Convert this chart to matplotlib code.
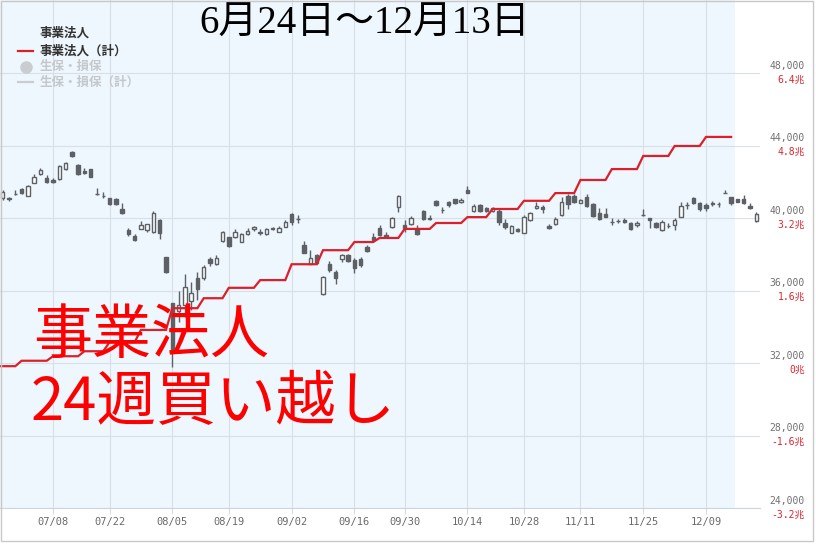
import numpy as np
import pandas as pd
import matplotlib
matplotlib.use('Agg')
import matplotlib.pyplot as plt
from matplotlib.lines import Line2D
from matplotlib.patches import Rectangle

# trading calendar (Tokyo), 2024
holidays = ['2024-07-15', '2024-08-12', '2024-09-16', '2024-09-23', '2024-10-14', '2024-11-04']
first_candle = '2024-06-26'
last_flow_day = '2024-12-13'

tick_dates = ['2024-07-08', '2024-07-22', '2024-08-05', '2024-08-19', '2024-09-02', '2024-09-16',
              '2024-09-30', '2024-10-14', '2024-10-28', '2024-11-11', '2024-11-25', '2024-12-09']
tick_labels = ['07/08', '07/22', '08/05', '08/19', '09/02', '09/16',
               '09/30', '10/14', '10/28', '11/11', '11/25', '12/09']

# daily candles from 06/26 to 12/19
opens = [41086, 41119, 41320, 41599, 41241, 41958, 42443, 42189,
         42096, 42134, 42686, 43640, 42923, 42609, 42703, 41330, 41240, 41086,
         41070, 40496, 39337, 39006, 39392, 39337, 39210, 39889, 37831, 35293,
         34886, 35199, 35436, 36672, 36672, 37737, 37445, 38747, 38946, 38979,
         38687, 39111, 39376, 39220, 39111, 39376, 39243, 39519, 40220, 39950,
         38510, 37461, 37958, 35807, 37445, 37037, 37737, 37958, 37682, 37737,
         38383, 38979, 39431, 39061, 39486, 40590, 39613, 39668, 39376, 40386,
         39983, 40954, 40450, 40882, 41031, 40882, 41544, 40386, 40717, 40568,
         40386, 40385, 39740, 39188, 39409, 39188, 39889, 40534, 40590, 39558,
         39652, 40165, 41230, 41230, 40843, 41141, 40772, 40292, 40220, 39800,
         39860, 39889, 39707, 39597, 40180, 39983, 39707, 39337, 39560, 39613,
         40071, 40720, 41086, 40843, 40717, 40820, 40780, 41400, 41141, 41031,
         41047, 40662, 39834]
highs = [41544, 41185, 41544, 41654, 41820, 42454, 42741, 42372,
         42206, 42923, 43116, 43712, 42978, 42741, 42730, 41638, 41417, 41130,
         41130, 40810, 39431, 39117, 39850, 39668, 40402, 39927, 37848, 35337,
         36000, 36910, 36490, 37040, 37406, 37826, 37958, 39298, 38979, 39398,
         39166, 39431, 39575, 39376, 39447, 39519, 39558, 39889, 40292, 40165,
         38731, 38234, 38013, 36800, 37627, 37130, 38013, 38013, 37776, 37865,
         38510, 39166, 39613, 39227, 40038, 41268, 39889, 40110, 39613, 40441,
         40165, 41020, 40590, 40954, 41064, 41086, 41765, 40756, 40772, 40623,
         40590, 40479, 39927, 39613, 39464, 40165, 40347, 40900, 40717, 39668,
         40038, 41142, 41323, 41307, 41064, 41323, 40843, 40534, 40534, 39983,
         39944, 39983, 39762, 39834, 40479, 39990, 39762, 39889, 39707, 40016,
         40900, 40900, 41141, 40899, 40810, 40954, 40899, 41544, 41174, 41075,
         41268, 40810, 40347]
lows = [40992, 40937, 41296, 41323, 41213, 41914, 42372, 41930,
        41930, 42096, 42648, 43381, 42388, 42427, 42261, 41296, 41119, 40744,
        40744, 40248, 39006, 38747, 39376, 39243, 39155, 38857, 36992, 31779,
        34290, 34553, 34924, 35475, 36579, 37351, 37406, 38687, 38428, 38891,
        38671, 39061, 39282, 39061, 39083, 39337, 39227, 39486, 39613, 39740,
        38053, 37461, 37461, 35751, 37037, 36358, 37589, 37589, 36949, 37279,
        38141, 38786, 39006, 38935, 39431, 40347, 39227, 39613, 39061, 39889,
        39889, 40689, 40292, 40590, 40772, 40843, 41362, 40331, 40347, 40331,
        40347, 39613, 39409, 39155, 39227, 39155, 39850, 40497, 40258, 39376,
        39597, 40126, 40479, 40827, 40810, 40589, 40071, 39889, 40038, 39600,
        39707, 39707, 39337, 39519, 40126, 39431, 39431, 39282, 39431, 39337,
        40038, 40479, 40755, 40402, 40385, 40662, 40626, 41380, 40717, 40865,
        40772, 40513, 39795]
closes = [41434, 41075, 41350, 41362, 41792, 42289, 42675, 41985,
          41969, 42868, 43061, 43436, 42410, 42499, 42278, 41300, 41220, 40772,
          40760, 40259, 39100, 38786, 39613, 39652, 40259, 39188, 37003, 32772,
          35199, 36209, 35845, 36065, 37312, 37517, 37809, 39210, 38483, 39210,
          39111, 39293, 39486, 39200, 39376, 39464, 39464, 39795, 39795, 39930,
          38086, 37776, 37500, 36761, 37130, 36672, 37958, 37644, 37257, 37406,
          38196, 38786, 39061, 38967, 39983, 41213, 39447, 39983, 39117, 39966,
          39927, 40733, 40430, 40700, 40810, 41009, 41395, 40662, 40386, 40386,
          40552, 39795, 39486, 39558, 39282, 40038, 40292, 40662, 40513, 39431,
          39927, 40899, 40755, 40865, 40992, 40661, 40126, 39927, 40071, 39790,
          39840, 39762, 39392, 39740, 40160, 39889, 39486, 39795, 39550, 39889,
          40662, 40710, 40810, 40479, 40568, 40800, 40760, 41390, 40843, 40899,
          40810, 40534, 40204]

# 事業法人 cumulative net buying, trillion yen, week of 06/24 ... week of 12/09
weekly_cum = [-0.07, 0.05, 0.15, 0.26, 0.46, 0.73, 1.21, 1.43, 1.66, 1.83, 2.18, 2.49, 2.67,
              2.76, 2.96, 3.09, 3.22, 3.40, 3.58, 3.75, 4.04, 4.28, 4.57, 4.79, 4.99]

price_ticks = [24000, 28000, 32000, 36000, 40000, 44000, 48000]
cho_labels = ['-3.2兆', '-1.6兆', '0兆', '1.6兆', '3.2兆', '4.8兆', '6.4兆']

W, H = 816, 544
candle_c = '#5d6166'
red_c = '#dc1f2b'

days = pd.bdate_range('2024-06-24', '2024-12-19', freq='C', holidays=holidays)
pos = np.arange(len(days))


def cho_to_price(v):
    # right scale: 0兆 at 32,000, 1.6兆 per 4,000
    return 32000 + np.asarray(v) / 1.6 * 4000


fig = plt.figure(figsize=(W / 100, H / 100), dpi=100)
ax = fig.add_axes([0, (H - 508) / H, 760 / W, 508 / H])

x0 = days.searchsorted(pd.Timestamp('2024-07-08'))
ppd = 6.279
ax.set_xlim(x0 - 53 / ppd, x0 + (760 - 53) / ppd)
ax.set_ylim(24000, 52030)

# shaded period with flow data
shade_end = days.searchsorted(pd.Timestamp(last_flow_day)) + 0.6
ax.axvspan(ax.get_xlim()[0], shade_end, color='#eef7fd', zorder=0, lw=0)

# candles
cx = pos[days.searchsorted(pd.Timestamp(first_candle)):]
o = np.array(opens, float)
c = np.array(closes, float)
hi = np.array(highs, float)
lo = np.array(lows, float)
up = c >= o
bot = np.minimum(o, c)
hgt = np.maximum(np.abs(c - o), 12)
ax.vlines(cx, lo, hi, color=candle_c, lw=1, zorder=2)
ax.bar(cx[up], hgt[up], bottom=bot[up], width=0.55, facecolor='white',
       edgecolor=candle_c, lw=1, zorder=3)
ax.bar(cx[~up], hgt[~up], bottom=bot[~up], width=0.55, facecolor=candle_c,
       edgecolor=candle_c, lw=1, zorder=3)

# weekly cumulative line (flat during a week, joined to the next week)
flow_days = days[days <= pd.Timestamp(last_flow_day)]
week_key = flow_days.to_period('W-FRI')
lx, ly = [], []
for k, wk in enumerate(week_key.unique()):
    idx = np.where(week_key == wk)[0]
    lx += [pos[idx[0]], pos[idx[-1]]]
    ly += [weekly_cum[k], weekly_cum[k]]
ax.plot(lx, cho_to_price(ly), color=red_c, lw=1.6, zorder=4, solid_joinstyle='miter')

# grid / ticks
tick_pos = [days.searchsorted(pd.Timestamp(d)) for d in tick_dates]
ax.set_xticks(tick_pos)
ax.set_xticklabels(tick_labels, family='DejaVu Sans Mono', fontsize=7.5, color='#6a6a6a')
ax.set_yticks(price_ticks)
ax.tick_params(axis='y', length=0, labelleft=False)
ax.tick_params(axis='x', length=4, width=0.8, color='#d5dce4', pad=2.5)
ax.set_axisbelow(True)
ax.grid(True, color='#d8dfe7', lw=0.8)
for s in ['top', 'right', 'left']:
    ax.spines[s].set_visible(False)
ax.spines['bottom'].set_color('#cdd5dd')
ax.spines['bottom'].set_linewidth(0.8)

for p, cl in zip(price_ticks, cho_labels):
    ax.annotate(f'{p:,}', xy=(1, p), xycoords=('axes fraction', 'data'),
                xytext=(32.4, 5.2), textcoords='offset points', ha='right', va='center',
                family='DejaVu Sans Mono', fontsize=7, color='#707070', annotation_clip=False)
    ax.annotate(cl, xy=(1, p), xycoords=('axes fraction', 'data'),
                xytext=(32.4, -4.6), textcoords='offset points', ha='right', va='center',
                family=['DejaVu Sans Mono', 'Noto Sans CJK JP'], fontsize=7, color='#d9262c',
                annotation_clip=False)


def fx(x):
    return x / W


def fy(y):
    return 1 - y / H


# legend
leg_font = ['Noto Sans CJK JP', 'DejaVu Sans']
fig.text(fx(40), fy(33), '事業法人', family=leg_font, fontsize=9, weight='bold',
         color='#333333', va='center')
fig.add_artist(Line2D([fx(18), fx(33)], [fy(51), fy(51)], color=red_c, lw=1.6))
fig.text(fx(40), fy(51), '事業法人（計）', family=leg_font, fontsize=9, weight='bold',
         color='#333333', va='center')
fig.add_artist(Line2D([fx(26)], [fy(66.5)], marker='o', markersize=8, color='#c9cdd1', lw=0))
fig.text(fx(40), fy(66.5), '生保・損保', family=leg_font, fontsize=9, weight='bold',
         color='#c4c8cc', va='center')
fig.add_artist(Line2D([fx(18), fx(33)], [fy(82), fy(82)], color='#c9cdd1', lw=1.6))
fig.text(fx(40), fy(82), '生保・損保（計）', family=leg_font, fontsize=9, weight='bold',
         color='#c4c8cc', va='center')

# title and annotation
fig.text(fx(365), fy(24), '6月24日～12月13日', family=['Liberation Serif', 'Noto Sans CJK JP'],
         fontsize=28, color='black', ha='center', va='center')
fig.text(fx(33), fy(336), '事業法人', family=['Noto Sans CJK JP'], fontsize=42.5,
         color='#ff0000', ha='left', va='center')
fig.text(fx(31), fy(404), '24週買い越し', family=['Noto Sans CJK JP'], fontsize=43,
         color='#ff0000', ha='left', va='center')

# outer frame
fig.add_artist(Rectangle((fx(0.5), fy(540.5)), fx(812.5), (540 / H), transform=fig.transFigure,
                         fill=False, edgecolor='#c8c8c8', lw=1))

fig.savefig('out.png', dpi=100)
